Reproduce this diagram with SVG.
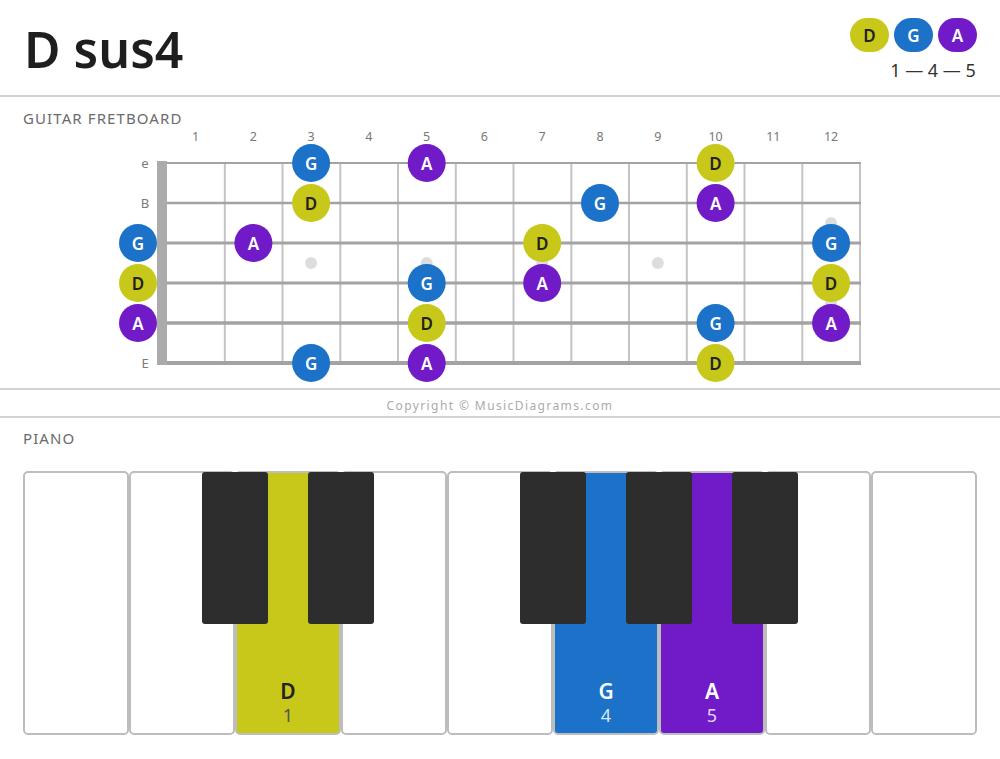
<svg xmlns="http://www.w3.org/2000/svg" width="1000" height="759" viewBox="0 0 1000 759">
<style>
text{font-family:"Noto Sans","Open Sans","DejaVu Sans",sans-serif}
.title{font-size:50px;font-weight:600;fill:#1e1e1e}
.sec{font-size:15px;fill:#6b6b6b;letter-spacing:1.1px}
.sep{stroke:#d2d2d2;stroke-width:2}
.fn{font-size:12.5px;fill:#777777;text-anchor:middle}
.sn{font-size:13px;fill:#7a7a7a;text-anchor:middle}
.fret{stroke:#c4c4c4;stroke-width:2}
.str{stroke:#a3a3a3}
.dot{fill:#dddddd}
.nD{fill:#c8c81a}
.nG{fill:#1b72c8}
.nA{fill:#711ac8}
.nt{font-size:17px;font-weight:600;text-anchor:middle;dominant-baseline:central}
.tl{fill:#ffffff}
.td{fill:#222222}
.wk{fill:#ffffff;stroke:#bdbdbd;stroke-width:2}
.bk{fill:#2d2d2d}
.kl{font-size:21px;font-weight:600;text-anchor:middle}
.kd{font-size:18px;text-anchor:middle}
.copy{font-size:12px;fill:#ababab;letter-spacing:1.4px;text-anchor:middle}
</style>
<rect width="1000" height="759" fill="#ffffff"/>
<g id="title"><text class="title" x="24" y="68">D sus4</text></g>
<g id="legend">
<rect class="nD" x="850" y="18" width="39" height="34" rx="17"/><text class="nt td" x="869.5" y="35">D</text>
<rect class="nG" x="894" y="18" width="39" height="34" rx="17"/><text class="nt tl" x="913.5" y="35">G</text>
<rect class="nA" x="938" y="18" width="39" height="34" rx="17"/><text class="nt tl" x="957.5" y="35">A</text>
<text x="933" y="77" font-size="18" fill="#333" text-anchor="middle">1 — 4 — 5</text>
</g>
<line class="sep" x1="0" y1="96" x2="1000" y2="96"/>
<g id="fretboard">
<text class="sec" x="23" y="124">GUITAR FRETBOARD</text>
<g id="fret-numbers">
<text class="fn" x="195.6" y="141">1</text><text class="fn" x="253.4" y="141">2</text><text class="fn" x="311.1" y="141">3</text><text class="fn" x="368.9" y="141">4</text><text class="fn" x="426.7" y="141">5</text><text class="fn" x="484.4" y="141">6</text><text class="fn" x="542.2" y="141">7</text><text class="fn" x="600" y="141">8</text><text class="fn" x="657.8" y="141">9</text><text class="fn" x="715.6" y="141">10</text><text class="fn" x="773.3" y="141">11</text><text class="fn" x="831.1" y="141">12</text>
</g>
<g id="string-names">
<text class="sn" x="145" y="168">e</text><text class="sn" x="145" y="208">B</text><text class="sn" x="145" y="368">E</text>
</g>
<g id="frets">
<line class="fret" x1="224.8" y1="163" x2="224.8" y2="363"/><line class="fret" x1="282.5" y1="163" x2="282.5" y2="363"/><line class="fret" x1="340.3" y1="163" x2="340.3" y2="363"/><line class="fret" x1="398" y1="163" x2="398" y2="363"/><line class="fret" x1="455.8" y1="163" x2="455.8" y2="363"/><line class="fret" x1="513.5" y1="163" x2="513.5" y2="363"/><line class="fret" x1="571.3" y1="163" x2="571.3" y2="363"/><line class="fret" x1="629" y1="163" x2="629" y2="363"/><line class="fret" x1="686.8" y1="163" x2="686.8" y2="363"/><line class="fret" x1="744.5" y1="163" x2="744.5" y2="363"/><line class="fret" x1="802.3" y1="163" x2="802.3" y2="363"/><line class="fret" x1="860" y1="163" x2="860" y2="363"/>
</g>
<g id="inlays">
<circle class="dot" cx="311.1" cy="263" r="6"/><circle class="dot" cx="426.7" cy="263" r="6"/><circle class="dot" cx="542.2" cy="263" r="6"/><circle class="dot" cx="657.8" cy="263" r="6"/><circle class="dot" cx="831.1" cy="223" r="6"/><circle class="dot" cx="831.1" cy="303" r="6"/>
</g>
<g id="strings">
<line class="str" x1="157" y1="163" x2="861" y2="163" stroke-width="2"/>
<line class="str" x1="157" y1="203" x2="861" y2="203" stroke-width="2.4"/>
<line class="str" x1="157" y1="243" x2="861" y2="243" stroke-width="2.8"/>
<line class="str" x1="157" y1="283" x2="861" y2="283" stroke-width="3.2"/>
<line class="str" x1="157" y1="323" x2="861" y2="323" stroke-width="3.6"/>
<line class="str" x1="157" y1="363" x2="861" y2="363" stroke-width="4"/>
</g>
<rect id="nut" x="157" y="161" width="10" height="204" fill="#ababab"/>
<g id="notes">
<g id="e-G3"><circle class="nG" cx="311.1" cy="163" r="19"/><text class="nt tl" x="311.1" y="163">G</text></g>
<g id="e-A5"><circle class="nA" cx="426.7" cy="163" r="19"/><text class="nt tl" x="426.7" y="163">A</text></g>
<g id="e-D10"><circle class="nD" cx="715.6" cy="163" r="19"/><text class="nt td" x="715.6" y="163">D</text></g>
<g id="B-D3"><circle class="nD" cx="311.1" cy="203" r="19"/><text class="nt td" x="311.1" y="203">D</text></g>
<g id="B-G8"><circle class="nG" cx="600" cy="203" r="19"/><text class="nt tl" x="600" y="203">G</text></g>
<g id="B-A10"><circle class="nA" cx="715.6" cy="203" r="19"/><text class="nt tl" x="715.6" y="203">A</text></g>
<g id="G-G0"><circle class="nG" cx="138" cy="243" r="19"/><text class="nt tl" x="138" y="243">G</text></g>
<g id="G-A2"><circle class="nA" cx="253.4" cy="243" r="19"/><text class="nt tl" x="253.4" y="243">A</text></g>
<g id="G-D7"><circle class="nD" cx="542.2" cy="243" r="19"/><text class="nt td" x="542.2" y="243">D</text></g>
<g id="G-G12"><circle class="nG" cx="831.1" cy="243" r="19"/><text class="nt tl" x="831.1" y="243">G</text></g>
<g id="D-D0"><circle class="nD" cx="138" cy="283" r="19"/><text class="nt td" x="138" y="283">D</text></g>
<g id="D-G5"><circle class="nG" cx="426.7" cy="283" r="19"/><text class="nt tl" x="426.7" y="283">G</text></g>
<g id="D-A7"><circle class="nA" cx="542.2" cy="283" r="19"/><text class="nt tl" x="542.2" y="283">A</text></g>
<g id="D-D12"><circle class="nD" cx="831.1" cy="283" r="19"/><text class="nt td" x="831.1" y="283">D</text></g>
<g id="A-A0"><circle class="nA" cx="138" cy="323" r="19"/><text class="nt tl" x="138" y="323">A</text></g>
<g id="A-D5"><circle class="nD" cx="426.7" cy="323" r="19"/><text class="nt td" x="426.7" y="323">D</text></g>
<g id="A-G10"><circle class="nG" cx="715.6" cy="323" r="19"/><text class="nt tl" x="715.6" y="323">G</text></g>
<g id="A-A12"><circle class="nA" cx="831.1" cy="323" r="19"/><text class="nt tl" x="831.1" y="323">A</text></g>
<g id="E-G3"><circle class="nG" cx="311.1" cy="363" r="19"/><text class="nt tl" x="311.1" y="363">G</text></g>
<g id="E-A5"><circle class="nA" cx="426.7" cy="363" r="19"/><text class="nt tl" x="426.7" y="363">A</text></g>
<g id="E-D10"><circle class="nD" cx="715.6" cy="363" r="19"/><text class="nt td" x="715.6" y="363">D</text></g>
</g>
</g>
<line class="sep" x1="0" y1="389" x2="1000" y2="389"/>
<text class="copy" x="500" y="410">Copyright © MusicDiagrams.com</text>
<line class="sep" x1="0" y1="417" x2="1000" y2="417"/>
<g id="piano">
<text class="sec" x="23" y="444">PIANO</text>
<g id="white-keys">
<rect class="wk" x="24" y="472" width="104" height="262" rx="4"/>
<rect class="wk" x="130" y="472" width="104" height="262" rx="4"/>
<g id="key-D"><rect class="wk" x="236" y="472" width="104" height="262" rx="4" style="fill:#c8c81a"/><text class="kl" x="288" y="699" fill="#222">D</text><text class="kd" x="288" y="722" fill="#555">1</text></g>
<rect class="wk" x="342" y="472" width="104" height="262" rx="4"/>
<rect class="wk" x="448" y="472" width="104" height="262" rx="4"/>
<g id="key-G"><rect class="wk" x="554" y="472" width="104" height="262" rx="4" style="fill:#1b72c8"/><text class="kl" x="606" y="699" fill="#fff">G</text><text class="kd" x="606" y="722" fill="#d6e6f7">4</text></g>
<g id="key-A"><rect class="wk" x="660" y="472" width="104" height="262" rx="4" style="fill:#711ac8"/><text class="kl" x="712" y="699" fill="#fff">A</text><text class="kd" x="712" y="722" fill="#e4d4f5">5</text></g>
<rect class="wk" x="766" y="472" width="104" height="262" rx="4"/>
<rect class="wk" x="872" y="472" width="104" height="262" rx="4"/>
</g>
<g id="black-keys">
<rect class="bk" x="202" y="472" width="66" height="152" rx="3"/>
<rect class="bk" x="308" y="472" width="66" height="152" rx="3"/>
<rect class="bk" x="520" y="472" width="66" height="152" rx="3"/>
<rect class="bk" x="626" y="472" width="66" height="152" rx="3"/>
<rect class="bk" x="732" y="472" width="66" height="152" rx="3"/>
</g>
</g>
</svg>
